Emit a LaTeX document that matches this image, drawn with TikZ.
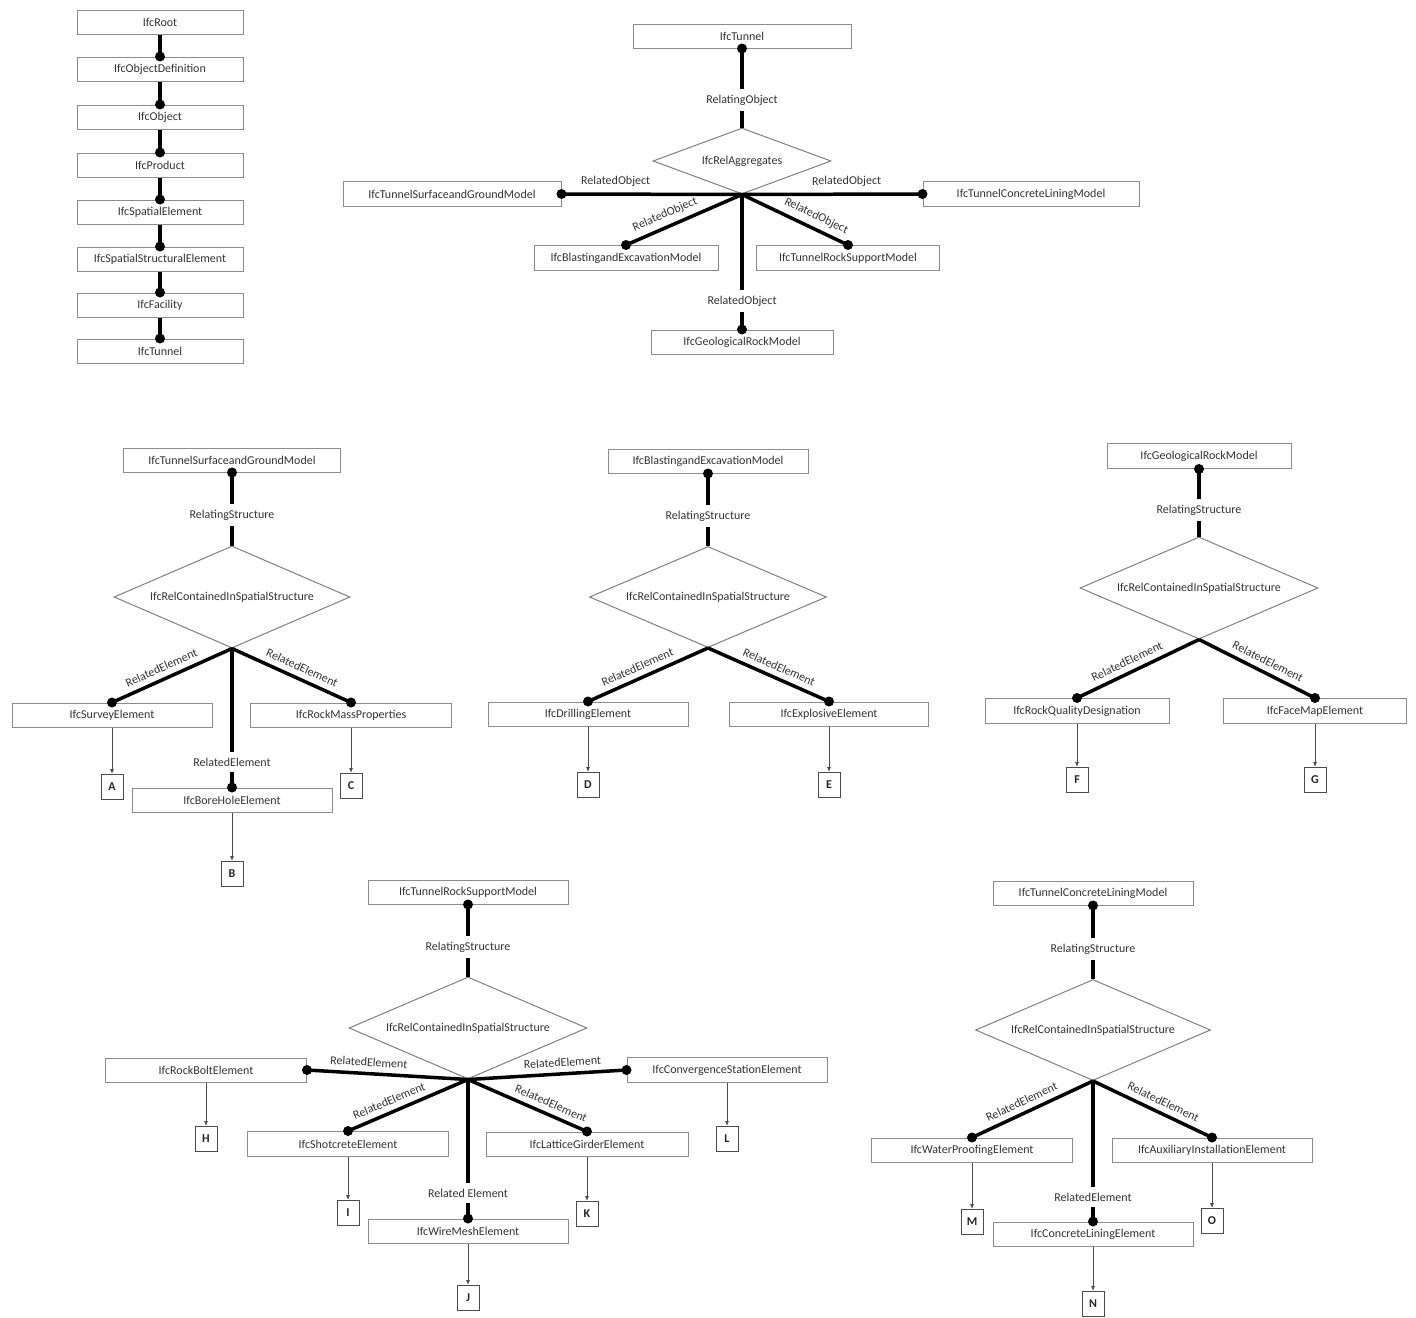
\documentclass[tikz,border=0pt]{standalone}
\usepackage{fontspec}
\setmainfont{Carlito}
\usetikzlibrary{shapes.geometric,arrows.meta}
\newcommand\dfont{\fontsize{12}{14}\selectfont}
\begin{document}
\begin{tikzpicture}[x=1pt,y=-1pt,
 box/.style={draw=black!45, line width=1pt, minimum width=#1, minimum height=24pt, inner sep=0pt, font=\dfont, text=black!80},
 rel/.style 2 args={diamond, draw=black!50, line width=1pt, minimum width=#1, minimum height=#2, inner sep=0pt, aspect=2.3, font=\dfont, text=black!80},
 conn/.style={line width=3.5pt, black},
 lab/.style={font=\dfont, text=black!80, inner xsep=2pt, inner ysep=6pt},
 elab/.style={font=\dfont, text=black!80, inner sep=1.5pt, sloped, above=4pt},
 lbox/.style={draw=black!70, line width=1pt, minimum width=22pt, minimum height=25pt, inner sep=0pt, font=\dfont\bfseries, text=black!85},
 arr/.style={line width=0.8pt, black!70, -{Latex[length=5pt,width=4pt]}},
]
\path[use as bounding box] (0,0) rectangle (1416,1317);

% ---------------- hierarchy
\foreach \n/\t/\y in {h1/IfcRoot/22, h2/IfcObjectDefinition/69, h3/IfcObject/117, h4/IfcProduct/165, h5/IfcSpatialElement/212, h6/IfcSpatialStructuralElement/259, h7/IfcFacility/305, h8/IfcTunnel/351}
  \node[box=166pt] (\n) at (160,\y) {\t};
\foreach \a/\b in {h1/h2,h2/h3,h3/h4,h4/h5,h5/h6,h6/h7,h7/h8}
  {\draw[conn] (\a.south) -- (\b.north); \fill (\b.north) circle (5pt);}

% ---------------- top: IfcRelAggregates
\node[box=218pt] (t0) at (742,36) {IfcTunnel};
\node[lab] (tl0) at (742,100) {RelatingObject};
\node[rel={178pt}{66pt}] (tr) at (742,161) {IfcRelAggregates};
\node[box=218pt, minimum height=25pt] (t1) at (452,194) {IfcTunnelSurfaceandGroundModel};
\node[box=216pt, minimum height=25pt] (t2) at (1031,194) {IfcTunnelConcreteLiningModel};
\node[box=184pt, minimum height=25pt] (t3) at (626,258) {IfcBlastingandExcavationModel};
\node[box=183pt, minimum height=25pt] (t4) at (848,258) {IfcTunnelRockSupportModel};
\node[lab] (tl5) at (742,301) {RelatedObject};
\node[box=182pt] (t5) at (742,342) {IfcGeologicalRockModel};
\draw[conn] (t0.south) -- (tl0.north); \fill (t0.south) circle (5pt);
\draw[conn] (tl0.south) -- (tr.north);
\draw[conn] (tr.south) -- node[elab,pos=0.7] {RelatedObject} (t1.east); \fill (t1.east) circle (5pt);
\draw[conn] (tr.south) -- node[elab,pos=0.58] {RelatedObject} (t2.west); \fill (t2.west) circle (5pt);
\draw[conn] (tr.south) -- node[elab,pos=0.62] {RelatedObject} (t3.north); \fill (t3.north) circle (5pt);
\draw[conn] (tr.south) -- node[elab,pos=0.65] {RelatedObject} (t4.north); \fill (t4.north) circle (5pt);
\draw[conn] (tr.south) -- (tl5.north);
\draw[conn] (tl5.south) -- (t5.north); \fill (t5.north) circle (5pt);

% ---------------- middle left
\node[box=217pt] (a0) at (232,460) {IfcTunnelSurfaceandGroundModel};
\node[lab] (al0) at (232,515) {RelatingStructure};
\node[rel={236pt}{102pt}] (ar) at (232,597) {IfcRelContainedInSpatialStructure};
\node[box=200pt] (a1) at (112,715) {IfcSurveyElement};
\node[box=201pt] (a2) at (351,715) {IfcRockMassProperties};
\node[lab] (al3) at (232,762) {RelatedElement};
\node[box=200pt] (a3) at (232,800) {IfcBoreHoleElement};
\node[lbox] (A) at (112,787) {A};
\node[lbox] (B) at (232,874) {B};
\node[lbox] (C) at (351,786) {C};
\draw[conn] (a0.south) -- (al0.north); \fill (a0.south) circle (5pt);
\draw[conn] (al0.south) -- (ar.north);
\draw[conn] (ar.south) -- node[elab,pos=0.55] {RelatedElement} (a1.north); \fill (a1.north) circle (5pt);
\draw[conn] (ar.south) -- node[elab,pos=0.55] {RelatedElement} (a2.north); \fill (a2.north) circle (5pt);
\draw[conn] (ar.south) -- (al3.north);
\draw[conn] (al3.south) -- (a3.north); \fill (a3.north) circle (5pt);
\draw[arr] (a1.south) -- (A.north);
\draw[arr] (a3.south) -- (B.north);
\draw[arr] (a2.south) -- (C.north);

% ---------------- middle centre
\node[box=200pt] (b0) at (708,461) {IfcBlastingandExcavationModel};
\node[lab] (bl0) at (708,516) {RelatingStructure};
\node[rel={237pt}{101pt}] (br) at (708,597) {IfcRelContainedInSpatialStructure};
\node[box=200pt] (b1) at (588,714) {IfcDrillingElement};
\node[box=199pt] (b2) at (829,714) {IfcExplosiveElement};
\node[lbox] (D) at (588,785) {D};
\node[lbox] (E) at (829,785) {E};
\draw[conn] (b0.south) -- (bl0.north); \fill (b0.south) circle (5pt);
\draw[conn] (bl0.south) -- (br.north);
\draw[conn] (br.south) -- node[elab,pos=0.55] {RelatedElement} (b1.north); \fill (b1.north) circle (5pt);
\draw[conn] (br.south) -- node[elab,pos=0.55] {RelatedElement} (b2.north); \fill (b2.north) circle (5pt);
\draw[arr] (b1.south) -- (D.north);
\draw[arr] (b2.south) -- (E.north);

% ---------------- middle right
\node[box=184pt, minimum height=25pt] (c0) at (1199,456) {IfcGeologicalRockModel};
\node[lab] (cl0) at (1199,510) {RelatingStructure};
\node[rel={238pt}{102pt}] (cr) at (1199,588) {IfcRelContainedInSpatialStructure};
\node[box=184pt, minimum height=25pt] (c1) at (1077,711) {IfcRockQualityDesignation};
\node[box=183pt, minimum height=25pt] (c2) at (1315,711) {IfcFaceMapElement};
\node[lbox] (F) at (1077,780) {F};
\node[lbox] (G) at (1315,780) {G};
\draw[conn] (c0.south) -- (cl0.north); \fill (c0.south) circle (5pt);
\draw[conn] (cl0.south) -- (cr.north);
\draw[conn] (cr.south) -- node[elab,pos=0.55] {RelatedElement} (c1.north); \fill (c1.north) circle (5pt);
\draw[conn] (cr.south) -- node[elab,pos=0.55] {RelatedElement} (c2.north); \fill (c2.north) circle (5pt);
\draw[arr] (c1.south) -- (F.north);
\draw[arr] (c2.south) -- (G.north);

% ---------------- bottom left
\node[box=200pt] (d0) at (468,892) {IfcTunnelRockSupportModel};
\node[lab] (dl0) at (468,947) {RelatingStructure};
\node[rel={238pt}{102pt}] (dr) at (468,1028) {IfcRelContainedInSpatialStructure};
\node[box=201pt] (d1) at (206,1070) {IfcRockBoltElement};
\node[box=200pt, minimum height=25pt] (d2) at (727,1070) {IfcConvergenceStationElement};
\node[box=201pt, minimum height=25pt] (d3) at (348,1144) {IfcShotcreteElement};
\node[box=202pt] (d4) at (587,1144) {IfcLatticeGirderElement};
\node[lab] (dl5) at (468,1193) {Related Element};
\node[box=200pt] (d5) at (468,1231) {IfcWireMeshElement};
\node[lbox] (H) at (206,1139) {H};
\node[lbox] (I) at (348,1213) {I};
\node[lbox] (J) at (468,1298) {J};
\node[lbox] (K) at (587,1214) {K};
\node[lbox] (L) at (727,1139) {L};
\draw[conn] (d0.south) -- (dl0.north); \fill (d0.south) circle (5pt);
\draw[conn] (dl0.south) -- (dr.north);
\draw[conn] (dr.south) -- node[elab,pos=0.62] {RelatedElement} (d1.east); \fill (d1.east) circle (5pt);
\draw[conn] (dr.south) -- node[elab,pos=0.6] {RelatedElement} (d2.west); \fill (d2.west) circle (5pt);
\draw[conn] (dr.south) -- node[elab,pos=0.62] {RelatedElement} (d3.north); \fill (d3.north) circle (5pt);
\draw[conn] (dr.south) -- node[elab,pos=0.66] {RelatedElement} (d4.north); \fill (d4.north) circle (5pt);
\draw[conn] (dr.south) -- (dl5.north);
\draw[conn] (dl5.south) -- (d5.north); \fill (d5.north) circle (5pt);
\draw[arr] (d1.south) -- (H.north);
\draw[arr] (d3.south) -- (I.north);
\draw[arr] (d5.south) -- (J.north);
\draw[arr] (d4.south) -- (K.north);
\draw[arr] (d2.south) -- (L.north);

% ---------------- bottom right
\node[box=200pt] (e0) at (1093,893) {IfcTunnelConcreteLiningModel};
\node[lab] (el0) at (1093,949) {RelatingStructure};
\node[rel={235pt}{101pt}] (er) at (1093,1030) {IfcRelContainedInSpatialStructure};
\node[box=201pt] (e1) at (972,1150) {IfcWaterProofingElement};
\node[box=200pt] (e2) at (1212,1150) {IfcAuxiliaryInstallationElement};
\node[lab] (el3) at (1093,1197) {RelatedElement};
\node[box=200pt] (e3) at (1093,1234) {IfcConcreteLiningElement};
\node[lbox] (M) at (972,1222) {M};
\node[lbox] (N) at (1093,1304) {N};
\node[lbox] (O) at (1212,1221) {O};
\draw[conn] (e0.south) -- (el0.north); \fill (e0.south) circle (5pt);
\draw[conn] (el0.south) -- (er.north);
\draw[conn] (er.south) -- node[elab,pos=0.55] {RelatedElement} (e1.north); \fill (e1.north) circle (5pt);
\draw[conn] (er.south) -- node[elab,pos=0.55] {RelatedElement} (e2.north); \fill (e2.north) circle (5pt);
\draw[conn] (er.south) -- (el3.north);
\draw[conn] (el3.south) -- (e3.north); \fill (e3.north) circle (5pt);
\draw[arr] (e1.south) -- (M.north);
\draw[arr] (e3.south) -- (N.north);
\draw[arr] (e2.south) -- (O.north);
\end{tikzpicture}
\end{document}
